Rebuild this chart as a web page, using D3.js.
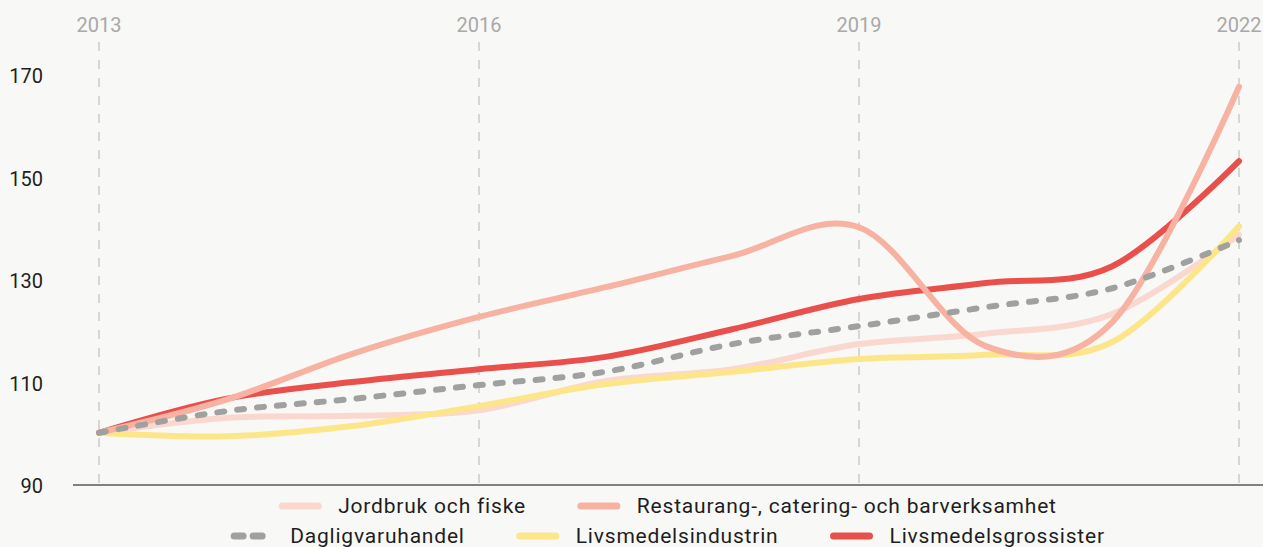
<!DOCTYPE html>
<html lang="sv">
<head>
<meta charset="UTF-8">
<title>Index 2013 = 100</title>
<script src="https://cdn.jsdelivr.net/npm/d3@7"></script>
<style>
  html, body { margin: 0; padding: 0; background: #f8f8f6; }
  body { font-family: Roboto, "Noto Sans", Arial, sans-serif; }
  svg { display: block; }
</style>
</head>
<body>
<div id="chart"></div>
<script>
// index values, 2013 = 100
const years = [2013, 2014, 2015, 2016, 2017, 2018, 2019, 2020, 2021, 2022];
const jordbruk = [100, 102.9, 103.3, 104.4, 110.1, 112.4, 117.3, 119.3, 123.2, 138.6];
const restaurang = [100, 106.4, 115.4, 122.6, 128.4, 134.5, 140.1, 116.9, 121.6, 167.5];
const dagligvaru = [100, 104.2, 106.6, 109.3, 111.9, 117.3, 120.8, 124.5, 128.2, 137.6];
const industrin = [100, 99.3, 101.3, 105.2, 109.5, 111.9, 114.4, 115.2, 117.7, 140.3];
const grossister = [100, 106.6, 109.9, 112.4, 114.8, 120.2, 126.1, 129.2, 132.5, 153.0];

const seriesNames = ["Jordbruk och fiske", "Restaurang-, catering- och barverksamhet",
  "Dagligvaruhandel", "Livsmedelsindustrin", "Livsmedelsgrossister"];
const seriesValues = [jordbruk, restaurang, dagligvaru, industrin, grossister];
const seriesColors = ["#fbd8cf", "#f7b2a1", "#a0a0a0", "#fde68a", "#e94f4b"];
const xTicks = [2013, 2016, 2019, 2022];
const yTicks = [90, 110, 130, 150, 170];

const W = 1263, H = 547;

const svg = d3.select("#chart").append("svg")
  .attr("width", W).attr("height", H);

const x = d3.scaleLinear().domain([2013, 2022]).range([99, 1239]);
const y = d3.scaleLinear().domain([90, 170]).range([484, 74]);

// vertical dashed year lines
svg.append("g").selectAll("line")
  .data(xTicks)
  .join("line")
  .attr("x1", d => x(d)).attr("x2", d => x(d))
  .attr("y1", 42).attr("y2", 492)
  .attr("stroke", "#b4b4b4")
  .attr("stroke-width", 1)
  .attr("stroke-dasharray", "9,9");

// year labels on top
svg.append("g").selectAll("text")
  .data(xTicks)
  .join("text")
  .attr("x", d => x(d))
  .attr("y", 25)
  .attr("dy", "0.35em")
  .attr("text-anchor", "middle")
  .attr("fill", "#a9a9a9")
  .style("font-size", "20px")
  .text(d => d);

// y labels
svg.append("g").selectAll("text")
  .data(yTicks)
  .join("text")
  .attr("x", 43)
  .attr("y", d => y(d) + 2)
  .attr("dy", "0.35em")
  .attr("text-anchor", "end")
  .attr("fill", "#1e1e1e")
  .style("font-size", "20px")
  .text(d => d);

// baseline
svg.append("line")
  .attr("x1", 73).attr("x2", W)
  .attr("y1", 485).attr("y2", 485)
  .attr("stroke", "#5a5a5a")
  .attr("stroke-width", 1.5);

const line = d3.line()
  .x((d, i) => x(years[i]))
  .y(d => y(d))
  .curve(d3.curveCardinal.tension(0));

// draw order: pink, yellow, red, salmon, dashed
const drawOrder = [0, 3, 4, 1, 2];
svg.append("g").selectAll("path")
  .data(drawOrder)
  .join("path")
  .attr("d", i => line(seriesValues[i]))
  .attr("fill", "none")
  .attr("stroke", i => seriesColors[i])
  .attr("stroke-width", 6)
  .attr("stroke-linecap", "round")
  .attr("stroke-linejoin", "round")
  .attr("stroke-dasharray", i => i === 2 ? "7,13" : null);

// legend, two centred rows
const legendRows = [[0, 1], [2, 3, 4]];
const rowY = [506, 536];
const swatchW = 42, swatchGap = 17, itemGap = 52, centerX = 668;

legendRows.forEach((row, r) => {
  const g = svg.append("g");
  let cx = 0;
  row.forEach(i => {
    const item = g.append("g").attr("transform", `translate(${cx},0)`);
    item.append("line")
      .attr("x1", 3).attr("x2", swatchW - 3)
      .attr("y1", 0).attr("y2", 0)
      .attr("stroke", seriesColors[i])
      .attr("stroke-width", 7)
      .attr("stroke-linecap", "round")
      .attr("stroke-dasharray", i === 2 ? "9,10" : null);
    const t = item.append("text")
      .attr("x", swatchW + swatchGap)
      .attr("y", 0)
      .attr("dy", "0.35em")
      .attr("fill", "#1e1e1e")
      .style("font-size", "21px")
      .style("letter-spacing", "0.8px")
      .text(seriesNames[i]);
    cx += swatchW + swatchGap + t.node().getComputedTextLength() + itemGap;
  });
  const total = cx - itemGap;
  g.attr("transform", `translate(${centerX - total / 2},${rowY[r]})`);
});
</script>
</body>
</html>
